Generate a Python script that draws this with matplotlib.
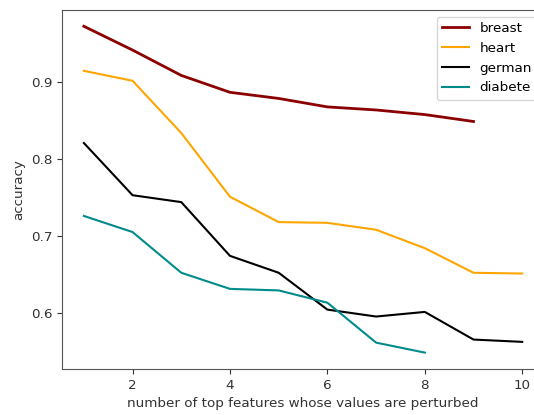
import matplotlib
matplotlib.use("Agg")
import matplotlib.pyplot as plt

n_features = [1, 2, 3, 4, 5, 6, 7, 8, 9, 10]
breast = [0.973, 0.942, 0.909, 0.887, 0.879, 0.868, 0.864, 0.858, 0.849]
heart = [0.915, 0.902, 0.834, 0.751, 0.718, 0.717, 0.708, 0.684, 0.652, 0.651]
german = [0.821, 0.753, 0.744, 0.674, 0.652, 0.604, 0.595, 0.601, 0.565, 0.562]
diabete = [0.726, 0.705, 0.652, 0.631, 0.629, 0.613, 0.561, 0.548]

plt.rcParams['font.size'] = 9.7
fig = plt.figure(figsize=(5.34, 4.15), dpi=100)
ax = fig.add_axes([0.116, 0.111, 0.903, 0.865])

ax.plot(n_features[:len(breast)], breast, color='darkred', lw=2, label='breast')
ax.plot(n_features[:len(heart)], heart, color='orange', lw=1.5, label='heart')
ax.plot(n_features[:len(german)], german, color='black', lw=1.5, label='german')
ax.plot(n_features[:len(diabete)], diabete, color='darkcyan', lw=1.5, label='diabete')

ax.set_xticks([2, 4, 6, 8, 10])
ax.set_yticks([0.6, 0.7, 0.8, 0.9])
ax.set_xlabel('number of top features whose values are perturbed', color='#333333')
ax.set_ylabel('accuracy', color='#333333')
ax.tick_params(colors='#333333')
for s in ax.spines.values():
    s.set_color('#555555')
ax.spines['right'].set_visible(False)
ax.legend(loc='upper right')

fig.savefig('out.png', dpi=100)
